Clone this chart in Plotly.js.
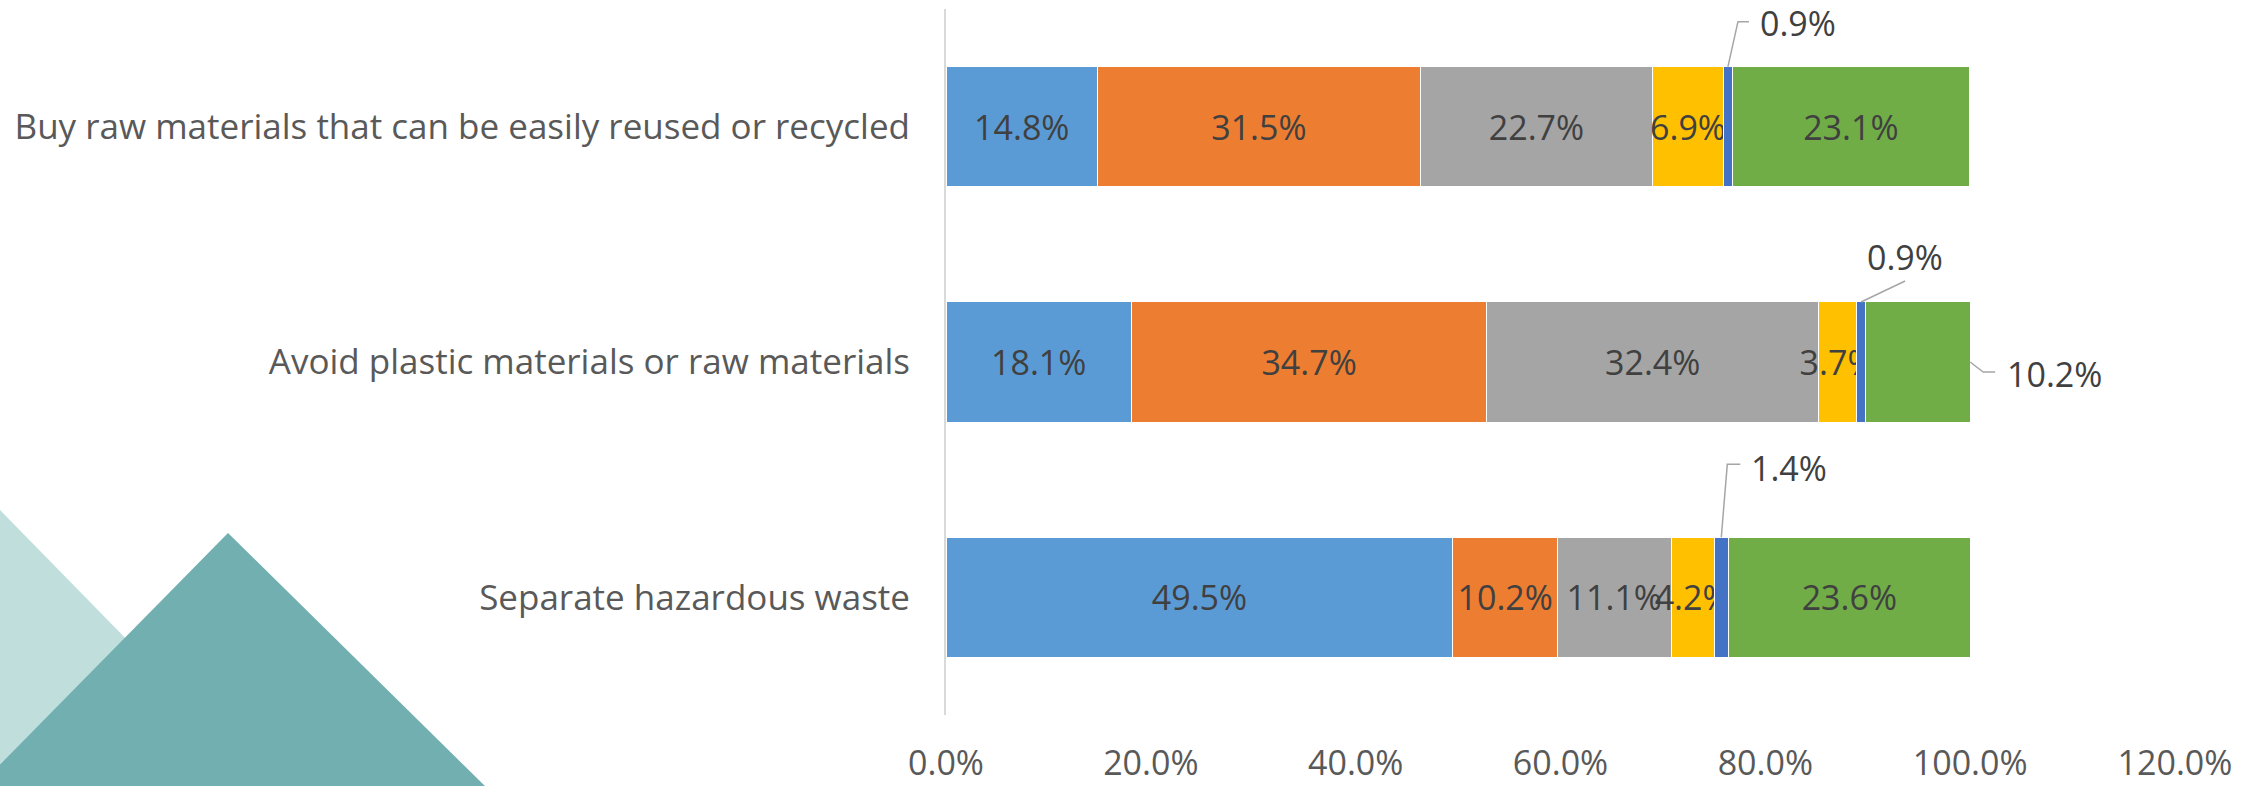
<!DOCTYPE html>
<html><head><meta charset="utf-8">
<script src="https://cdn.plot.ly/plotly-3.0.1.min.js"></script>
<style>html,body{margin:0;padding:0;background:#fff;overflow:hidden}#chart{width:2264px;height:786px}</style>
</head><body><div id="chart"></div>
<script>
// ---- data ----
const categories = [
  'Separate hazardous waste',
  'Avoid plastic materials or raw materials',
  'Buy raw materials that can be easily reused or recycled'
];
const series1 = [49.5, 18.1, 14.8];
const series2 = [10.2, 34.7, 31.5];
const series3 = [11.1, 32.4, 22.7];
const series4 = [4.2, 3.7, 6.9];
const series5 = [1.4, 0.9, 0.9];
const series6 = [23.6, 10.2, 23.1];
const seriesNames = ['Series 1','Series 2','Series 3','Series 4','Series 5','Series 6'];
const xTickValues = [0, 20, 40, 60, 80, 100, 120];
const xTickLabels = ['0.0%', '20.0%', '40.0%', '60.0%', '80.0%', '100.0%', '120.0%'];

// ---- style ----
const allSeries = [series1, series2, series3, series4, series5, series6];
const colors = ['#5B9BD5', '#ED7D31', '#A5A5A5', '#FFC000', '#4472C4', '#70AD47'];
const FONT = 'Open Sans, sans-serif';
const FS = 34;
const BAR_W = 0.51;
const W = 2264, H = 786;
const M = {l: 946, r: 89, t: 9, b: 71};
const PW = W - M.l - M.r, PH = H - M.t - M.b;

// labels drawn as callouts (series index, category index)
const callouts = [
  {s: 4, c: 2, at: 'top', path: 'M0,0 L10,45 L21,45', xshift: 30, yshift: 44, xanchor: 'left'},
  {s: 4, c: 1, at: 'top', path: 'M0,0 L44,21', xshift: 44, yshift: 45, xanchor: 'center'},
  {s: 5, c: 1, at: 'end', path: 'M0,0 L13,-10 L25,-10', xshift: 35, yshift: -12, xanchor: 'left'},
  {s: 4, c: 0, at: 'top', path: 'M0,0 L6,73 L19,73', xshift: 28, yshift: 69, xanchor: 'left'}
];
const isCallout = (s, c) => callouts.some(o => o.s === s && o.c === c);
const fmt = v => v.toFixed(1) + '%';

const traces = allSeries.map((vals, s) => ({
  type: 'bar', orientation: 'h',
  y: categories, x: vals, name: seriesNames[s],
  width: BAR_W,
  marker: {color: colors[s], line: {color: '#FFFFFF', width: 1}},
  text: vals.map((v, c) => isCallout(s, c) ? '' : fmt(v)),
  textposition: 'inside', insidetextanchor: 'middle', textangle: 0,
  constraintext: 'none',
  textfont: {family: FONT, size: FS, color: '#404040'},
  hoverinfo: 'none', showlegend: false
}));

const shapes = [];
const annotations = [];
callouts.forEach(o => {
  let before = 0;
  for (let k = 0; k < o.s; k++) before += allSeries[k][o.c];
  const v = allSeries[o.s][o.c];
  let ax, ay;
  if (o.at === 'top') { ax = before + v / 2; ay = o.c + BAR_W / 2; }
  else { ax = before + v; ay = o.c; }
  shapes.push({type: 'path', xref: 'x', yref: 'y', xsizemode: 'pixel', ysizemode: 'pixel',
    xanchor: ax, yanchor: ay, path: o.path, line: {color: '#A6A6A6', width: 1.5}, layer: 'above'});
  annotations.push({xref: 'x', yref: 'y', x: ax, y: ay, text: fmt(v), showarrow: false,
    xanchor: o.xanchor, yanchor: 'middle', xshift: o.xshift, yshift: o.yshift,
    font: {family: FONT, size: FS, color: '#404040'}});
});

// decorative background triangles (pixel -> paper)
const px = x => (x - M.l) / PW;
const py = y => (H - M.b - y) / PH;
const poly = pts => 'M' + pts.map(p => px(p[0]) + ',' + py(p[1])).join(' L') + ' Z';
shapes.push({type: 'path', xref: 'paper', yref: 'paper', layer: 'below',
  path: poly([[-5, 505], [275, 791], [-5, 791]]), fillcolor: '#C0DFDC', line: {width: 0}});
shapes.push({type: 'path', xref: 'paper', yref: 'paper', layer: 'below',
  path: poly([[228, 533], [490, 791], [-26, 791]]), fillcolor: '#71AFB0', line: {width: 0}});

const layout = {
  width: W, height: H, margin: M,
  barmode: 'stack', bargap: 0.49,
  paper_bgcolor: '#FFFFFF', plot_bgcolor: 'rgba(0,0,0,0)',
  font: {family: FONT, size: FS, color: '#595959'},
  xaxis: {range: [0, 120], tickvals: xTickValues, ticktext: xTickLabels,
    showgrid: false, zeroline: false, showline: false, ticks: '',
    ticklabelstandoff: 25, tickfont: {family: FONT, size: FS, color: '#595959'}, fixedrange: true},
  yaxis: {type: 'category', range: [-0.5, 2.5], showgrid: false, zeroline: false,
    showline: true, linecolor: '#D9D9D9', linewidth: 2, ticks: '',
    ticklabelstandoff: 27, tickfont: {family: FONT, size: 35, color: '#595959'}, fixedrange: true},
  shapes: shapes, annotations: annotations
};

Plotly.newPlot('chart', traces, layout, {staticPlot: true, displayModeBar: false});
</script></body></html>
